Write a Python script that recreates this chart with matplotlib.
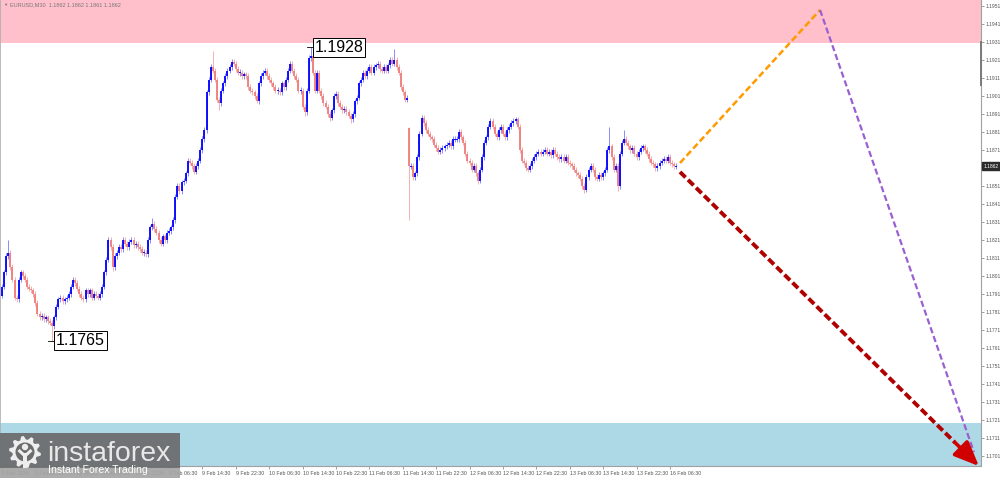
import numpy as np
import matplotlib
matplotlib.use("Agg")
import matplotlib.pyplot as plt
import matplotlib.transforms as mtransforms
from matplotlib.patches import Rectangle, Polygon, Circle

plt.rcParams['font.family'] = ['Liberation Sans', 'DejaVu Sans']

# ---- data (EURUSD M30) ----
symbol = "EURUSD,M30"
quote = "1.1862 1.1862 1.1861 1.1862"
last_price = 1.1862

first_open = 1.1790
closes = [
    1.1795, 1.1803, 1.1812, 1.1814, 1.1806, 1.1799, 1.1789, 1.1788, 1.1799, 1.1803,
    1.1801, 1.1799, 1.1795, 1.1794, 1.1793, 1.1791, 1.1786, 1.1780, 1.1778, 1.1779,
    1.1777, 1.1778, 1.1776, 1.1775, 1.1773, 1.1778, 1.1784, 1.1788, 1.1789, 1.1787,
    1.1788, 1.1789, 1.1791, 1.1795, 1.1799, 1.1797, 1.1794, 1.1791, 1.1789, 1.1788,
    1.1793, 1.1791, 1.1793, 1.1789, 1.1791, 1.1790, 1.1789, 1.1791, 1.1795, 1.1803,
    1.1810, 1.1821, 1.1817, 1.1806, 1.1812, 1.1814, 1.1817, 1.1816, 1.1821, 1.1819,
    1.1817, 1.1820, 1.1821, 1.1818, 1.1819, 1.1817, 1.1816, 1.1814, 1.1814, 1.1813,
    1.1821, 1.1828, 1.1830, 1.1827, 1.1825, 1.1821, 1.1819, 1.1823, 1.1821, 1.1825,
    1.1826, 1.1828, 1.1832, 1.1845, 1.1851, 1.1848, 1.1853, 1.1854, 1.1858, 1.1865,
    1.1864, 1.1862, 1.1859, 1.1862, 1.1865, 1.1871, 1.1877, 1.1882, 1.1903, 1.1910,
    1.1917, 1.1915, 1.1910, 1.1899, 1.1897, 1.1904, 1.1908, 1.1912, 1.1915, 1.1917,
    1.1920, 1.1919, 1.1916, 1.1914, 1.1914, 1.1912, 1.1913, 1.1912, 1.1906, 1.1904,
    1.1903, 1.1901, 1.1898, 1.1908, 1.1912, 1.1914, 1.1915, 1.1912, 1.1910, 1.1908,
    1.1906, 1.1904, 1.1904, 1.1903, 1.1908, 1.1906, 1.1910, 1.1915, 1.1919, 1.1915,
    1.1912, 1.1910, 1.1904, 1.1904, 1.1895, 1.1892, 1.1904, 1.1922, 1.1923, 1.1914,
    1.1904, 1.1914, 1.1904, 1.1901, 1.1897, 1.1895, 1.1891, 1.1889, 1.1893, 1.1901,
    1.1902, 1.1897, 1.1895, 1.1893, 1.1894, 1.1892, 1.1890, 1.1888, 1.1891, 1.1898,
    1.1900, 1.1908, 1.1910, 1.1914, 1.1912, 1.1915, 1.1917, 1.1914, 1.1917, 1.1918,
    1.1919, 1.1916, 1.1915, 1.1917, 1.1915, 1.1918, 1.1921, 1.1919, 1.1921, 1.1917,
    1.1914, 1.1906, 1.1903, 1.1899, 1.1900, 1.1862, 1.1862, 1.1856, 1.1858, 1.1867,
    1.1880, 1.1889, 1.1886, 1.1882, 1.1880, 1.1878, 1.1877, 1.1874, 1.1872, 1.1870,
    1.1871, 1.1872, 1.1873, 1.1874, 1.1875, 1.1873, 1.1877, 1.1877, 1.1877, 1.1881,
    1.1878, 1.1875, 1.1869, 1.1865, 1.1864, 1.1860, 1.1862, 1.1858, 1.1854, 1.1860,
    1.1867, 1.1875, 1.1878, 1.1884, 1.1887, 1.1884, 1.1880, 1.1878, 1.1882, 1.1884,
    1.1880, 1.1878, 1.1882, 1.1884, 1.1886, 1.1887, 1.1888, 1.1884, 1.1871, 1.1865,
    1.1864, 1.1861, 1.1860, 1.1862, 1.1865, 1.1867, 1.1869, 1.1870, 1.1869, 1.1870,
    1.1871, 1.1869, 1.1870, 1.1868, 1.1871, 1.1869, 1.1867, 1.1866, 1.1867, 1.1865,
    1.1867, 1.1864, 1.1863, 1.1862, 1.1860, 1.1858, 1.1857, 1.1855, 1.1851, 1.1849,
    1.1856, 1.1860, 1.1862, 1.1860, 1.1856, 1.1855, 1.1857, 1.1856, 1.1858, 1.1860,
    1.1871, 1.1873, 1.1867, 1.1860, 1.1862, 1.1851, 1.1869, 1.1875, 1.1877, 1.1875,
    1.1873, 1.1871, 1.1872, 1.1869, 1.1867, 1.1870, 1.1872, 1.1873, 1.1871, 1.1869,
    1.1866, 1.1864, 1.1863, 1.1861, 1.1862, 1.1864, 1.1865, 1.1866, 1.1865, 1.1867,
    1.1864, 1.1863, 1.1862, 1.1862,
]
# bars whose open does not equal the previous close (price gap)
gap_opens = {195: 1.1883}
# notable wick extremes
highs = {3: 1.1821, 72: 1.1833, 101: 1.1926, 148: 1.1928, 188: 1.1927,
         195: 1.1884, 291: 1.1884, 298: 1.1882}
lows = {24: 1.1765, 53: 1.1804, 104: 1.1893, 122: 1.1897, 145: 1.1890,
        157: 1.1887, 167: 1.1886, 195: 1.1832, 228: 1.1852, 279: 1.1847,
        295: 1.1848}

time_labels = ["5 Feb 2026", "5 Feb 22:30", "6 Feb 06:30", "6 Feb 14:30",
               "6 Feb 22:30", "9 Feb 06:30", "9 Feb 14:30", "9 Feb 22:30",
               "10 Feb 06:30", "10 Feb 14:30", "10 Feb 22:30", "11 Feb 06:30",
               "11 Feb 14:30", "11 Feb 22:30", "12 Feb 06:30", "12 Feb 14:30",
               "12 Feb 22:30", "13 Feb 06:30", "13 Feb 14:30", "13 Feb 22:30",
               "16 Feb 06:30"]
bars_per_label = 16

price_labels = ["1.1951", "1.1941", "1.1931", "1.1921", "1.1911", "1.1901",
                "1.1891", "1.1881", "1.1871", "1.1861", "1.1851", "1.1841",
                "1.1831", "1.1821", "1.1811", "1.1801", "1.1791", "1.1781",
                "1.1771", "1.1761", "1.1751", "1.1741", "1.1731", "1.1721",
                "1.1711", "1.1701"]

resistance_low = 1.19304   # pink zone from here up
support_high = 1.17193     # blue zone from here down

swing_labels = [(148, 1.1928, "1.1928"), (24, 1.1765, "1.1765")]

# forecast paths (bar index, price)
path_up = [(324.8, 1.18638), (391.9, 1.19488)]
path_down_purple = [(391.9, 1.19488), (465.6, 1.17032)]
path_down_red = [(324.8, 1.18588), (468.0, 1.16954)]

# ---- figure ----
fig = plt.figure(figsize=(10, 4.78), dpi=100)
fig.patch.set_facecolor('white')
ax = fig.add_axes([0, 12 / 478, 0.981, 466 / 478])
ax.set_xlim(-0.96, 469.0)
ax.set_ylim(1.169544, 1.195433)
ax.set_facecolor('white')

ax.axhspan(resistance_low, 1.2, color='#ffc0cb', lw=0, zorder=0)
ax.axhspan(1.16, support_high, color='#add8e6', lw=0, zorder=0)

# candles
wick = 0.00015
opens = [first_open] + closes[:-1]
bx, blo, bhi, bcol, wlo, whi, wcol = [], [], [], [], [], [], []
for i, c in enumerate(closes):
    o = gap_opens.get(i, opens[i])
    up = c >= o
    top, bot = max(o, c), min(o, c)
    if top - bot < 0.00006:
        top += 0.00003
        bot -= 0.00003
    bx.append(i)
    blo.append(bot)
    bhi.append(top)
    bcol.append('#0000ff' if up else '#f07c7c')
    wlo.append(lows.get(i, bot - wick))
    whi.append(highs.get(i, top + wick))
    wcol.append('#8a8aff' if up else '#f5b0b0')

ax.vlines(bx, wlo, whi, colors=wcol, lw=0.7, zorder=2)
ax.vlines(bx, blo, bhi, colors=bcol, lw=1.3, zorder=3)

# swing labels
for idx, price, txt in swing_labels:
    ax.plot([idx - 2.0, idx + 1.5], [price, price], color='black', lw=0.6, zorder=4)
    ax.text(idx + 1.8, price, txt, fontsize=11.5, color='black', ha='left', va='center',
            zorder=5, bbox=dict(boxstyle='square,pad=0.12', fc='white', ec='black', lw=0.7))

# forecast arrows
def dashed(path, color, lw, dashes):
    xs = [p[0] for p in path]
    ys = [p[1] for p in path]
    ax.plot(xs, ys, color=color, lw=lw, dashes=dashes, solid_capstyle='butt',
            dash_capstyle='butt', clip_on=False, zorder=6)

dashed(path_up, '#ff9a00', 1.8, (2.6, 1.3))
dashed(path_down_purple, '#9a5fd0', 1.6, (2.8, 1.4))

(rx0, ry0), (rx1, ry1) = path_down_red
rxm, rym = rx1 + 0.08 * (rx0 - rx1), ry1 + 0.08 * (ry0 - ry1)
dashed([(rx0, ry0), (rxm, rym)], '#b00000', 2.8, (2.0, 0.9))
ax.annotate('', xy=(rx1, ry1), xytext=(rxm, rym), annotation_clip=False, zorder=7,
            arrowprops=dict(arrowstyle='-|>,head_length=0.75,head_width=0.32',
                            mutation_scale=20, color='#d00000', lw=2.6,
                            shrinkA=0, shrinkB=0))

# axes styling
ax.yaxis.tick_right()
ax.set_yticks([float(s) for s in price_labels])
ax.set_yticklabels(price_labels)
ax.set_xticks(np.arange(len(time_labels)) * bars_per_label)
ax.set_xticklabels(time_labels, ha='left')
ax.tick_params(axis='y', which='both', right=True, left=False, length=2.2, width=0.6,
               color='#909090', labelsize=3.6, labelcolor='#555555', pad=1.0)
ax.tick_params(axis='x', which='both', bottom=True, length=2.5, width=0.6,
               color='#909090', labelsize=3.8, labelcolor='#555555', pad=1.2)
# the scale label sitting under the current price tag is hidden, as on the terminal
for lbl in ax.get_yticklabels():
    if abs(float(lbl.get_text()) - last_price) < 0.0005:
        lbl.set_visible(False)
ax.spines['top'].set_visible(False)
ax.spines['left'].set_color('#b0b0b0')
ax.spines['left'].set_linewidth(0.6)
ax.spines['right'].set_color('#a0a0a0')
ax.spines['right'].set_linewidth(0.8)
ax.spines['bottom'].set_color('#a0a0a0')
ax.spines['bottom'].set_linewidth(0.8)

# darker piece of the price scale
blend = mtransforms.blended_transform_factory(ax.transAxes, ax.transData)
ax.plot([1.0, 1.0], [1.1907, 1.1931], transform=blend, color='#7a7a7a', lw=1.4,
        clip_on=False, zorder=8)

# current price tag
ax.text(1.0025, last_price, "1.1862", transform=blend, fontsize=3.6, color='white',
        ha='left', va='center', zorder=9, clip_on=False,
        bbox=dict(boxstyle='square,pad=0.3', fc='#2b2b2b', ec='#2b2b2b'))

# header
fig.text(3 / 1000, 1 - 5 / 478, "\u25bc", fontsize=3.2, color='#777777', va='center')
fig.text(10 / 1000, 1 - 5 / 478, symbol + "  " + quote, fontsize=4.0, color='#777777',
         va='center')

# watermark logo
ov = fig.add_axes([0, 0, 1, 1], zorder=20)
ov.set_xlim(0, 1000)
ov.set_ylim(478, 0)
ov.axis('off')
ov.patch.set_alpha(0)
ov.add_patch(Rectangle((0, 433), 180, 35, fc='#6c6c6c', ec='none', alpha=0.93))
ov.add_patch(Rectangle((0, 468), 180, 10, fc='#a4a4a4', ec='none', alpha=0.92))
ang = np.linspace(0, 2 * np.pi, 40, endpoint=False) + np.pi / 40
rad = np.where((np.arange(40) // 2) % 2 == 0, 16.0, 12.5)
ov.add_patch(Polygon(np.column_stack([25 + rad * np.cos(ang), 452 + rad * np.sin(ang)]),
                     closed=True, fc='#eeeeee', ec='none'))
ov.add_patch(Circle((25, 452), 9.5, fc='#6c6c6c', ec='none'))
ov.add_patch(Circle((25, 447), 3.2, fc='#eeeeee', ec='none'))
ov.add_patch(Rectangle((23.2, 453), 3.6, 15, fc='#eeeeee', ec='none'))
ov.plot([25, 18.5], [456, 450], color='#eeeeee', lw=2.2, solid_capstyle='butt')
ov.plot([25, 31.5], [456, 450], color='#eeeeee', lw=2.2, solid_capstyle='butt')
ov.text(47, 461, "instaforex", fontsize=20.5, color='#e8e8e8', ha='left', va='baseline')
ov.text(48, 473, "Instant Forex Trading", fontsize=7.6, color='white', ha='left',
        va='baseline')

fig.savefig("out.png", dpi=100)
